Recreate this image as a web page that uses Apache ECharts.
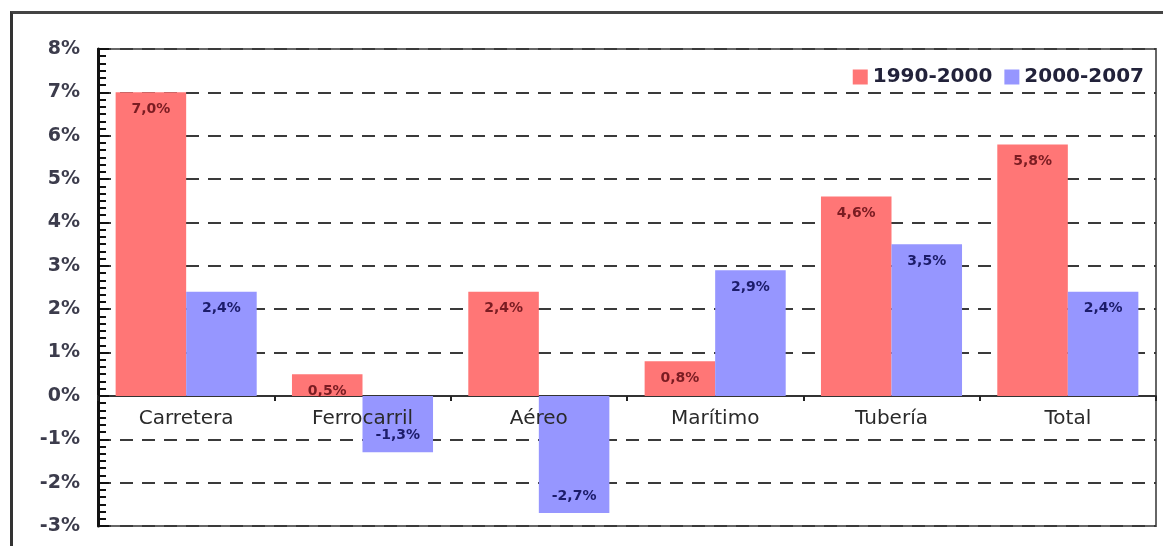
<!DOCTYPE html>
<html>
<head>
<meta charset="utf-8">
<script src="https://cdn.jsdelivr.net/npm/echarts@6/dist/echarts.min.js"></script>
<style>
  html, body { margin: 0; padding: 0; background: #fff; }
  #frame {
    position: absolute; left: 10px; top: 11px; width: 1160px; height: 540px;
    border-left: 3px solid #333; border-top: 3px solid #444; box-sizing: border-box;
  }
  #main { position: absolute; left: 0; top: 0; width: 1163px; height: 546px; }
</style>
</head>
<body>
<div id="frame"></div>
<div id="main"></div>
<script>
// datos
var categorias = ['Carretera', 'Ferrocarril', 'Aéreo', 'Marítimo', 'Tubería', 'Total'];
var serie1990 = [7.0, 0.5, 2.4, 0.8, 4.6, 5.8];
var serie2000 = [2.4, -1.3, -2.7, 2.9, 3.5, 2.4];
var nombres = ['1990-2000', '2000-2007'];

function etiqueta(p) {
  return p.value.toFixed(1).replace('.', ',') + '%';
}

// etiquetas dentro de la barra: arriba si positivo, abajo si negativo
function datos(arr) {
  return arr.map(function (v) {
    return {
      value: v,
      label: { position: v < 0 ? 'insideBottom' : 'insideTop', distance: 10 }
    };
  });
}

var myChart = echarts.init(document.getElementById('main'));
var gridBottom = 20;

var option = {
  animation: false,
  grid: {
    left: 98, right: 7, top: 49, bottom: gridBottom,
    show: true, borderColor: '#666', borderWidth: 2, backgroundColor: 'transparent'
  },
  legend: {
    right: 14, top: 62, icon: 'rect',
    itemWidth: 15, itemHeight: 15, itemGap: 12,
    textStyle: { fontFamily: 'DejaVu Sans', fontSize: 20, fontWeight: 'bold', color: '#22223a' },
    data: nombres
  },
  xAxis: [
    {
      type: 'category',
      data: categorias,
      axisLine: { onZero: true, lineStyle: { color: '#333', width: 2 } },
      axisTick: { show: true, length: 5, lineStyle: { color: '#222', width: 2 } },
      axisLabel: { show: false }
    },
    {
      // solo para las etiquetas, colocado sobre la línea del 0%
      type: 'category',
      data: categorias,
      position: 'bottom',
      offset: 0,
      z: 10,
      axisLine: { show: false },
      axisTick: { show: false },
      axisLabel: { fontFamily: 'DejaVu Sans', fontSize: 20, color: '#2a2a2a', margin: 12 }
    }
  ],
  yAxis: {
    type: 'value',
    min: -3, max: 8, interval: 1,
    axisLine: { show: true, lineStyle: { color: '#111', width: 3 } },
    axisTick: { show: true, inside: true, length: 11, lineStyle: { color: '#111', width: 2 } },
    minorTick: { show: true, splitNumber: 6, length: 8, lineStyle: { color: '#111', width: 2 } },
    axisLabel: {
      fontFamily: 'DejaVu Sans', fontSize: 19, fontWeight: 'bold', color: '#3c3c4c', margin: 18,
      formatter: function (v) { return v + '%'; }
    },
    splitLine: { show: true, lineStyle: { color: '#3a3a3a', width: 2, type: [13, 9] } }
  },
  series: [
    {
      name: nombres[0], type: 'bar',
      data: datos(serie1990),
      itemStyle: { color: '#ff7676' },
      barGap: '0%', barCategoryGap: '20%',
      label: { show: true, fontFamily: 'DejaVu Sans', fontSize: 14, fontWeight: 'bold', color: '#7a1c22', formatter: etiqueta }
    },
    {
      name: nombres[1], type: 'bar',
      data: datos(serie2000),
      itemStyle: { color: '#9696ff' },
      barGap: '0%', barCategoryGap: '20%',
      label: { show: true, fontFamily: 'DejaVu Sans', fontSize: 14, fontWeight: 'bold', color: '#1c1c6a', formatter: etiqueta }
    }
  ]
};

myChart.setOption(option);

// mover las etiquetas de categoría justo debajo de la línea del cero
var yCero = myChart.convertToPixel({ yAxisIndex: 0 }, 0);
var yBase = 546 - gridBottom;
myChart.setOption({ xAxis: [{}, { offset: yCero - yBase + 10 }] });
</script>
</body>
</html>
